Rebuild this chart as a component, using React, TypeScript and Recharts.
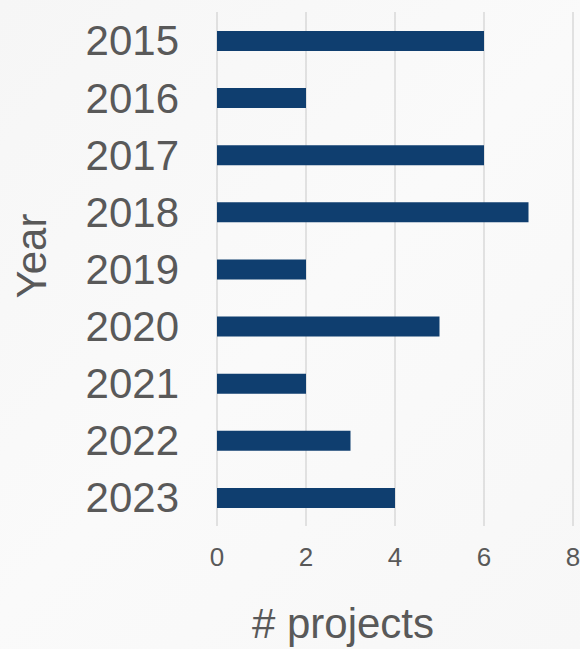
import { Bar, BarChart, CartesianGrid, XAxis, YAxis } from "recharts";

// projects per year
const years = ["2015", "2016", "2017", "2018", "2019", "2020", "2021", "2022", "2023"];
const projectCounts = [6, 2, 6, 7, 2, 5, 2, 3, 4];
const xTicks = [0, 2, 4, 6, 8];

const BAR_COLOR = "#0f3e6f";
const GRID_COLOR = "#d9d9d9";
const TEXT_COLOR = "#595959";
const FONT = '"Liberation Sans", Arial, sans-serif';

const data = years.map((year, i) => ({ year, count: projectCounts[i] }));

function YearLabel() {
  return (
    <text
      x={31}
      y={256}
      transform="rotate(-90 31 256)"
      textAnchor="middle"
      dominantBaseline="central"
      fontSize={42}
      fill={TEXT_COLOR}
      fontFamily={FONT}
    >
      Year
    </text>
  );
}

function ProjectsLabel() {
  return (
    <text x={343} y={638} textAnchor="middle" fontSize={42} fill={TEXT_COLOR} fontFamily={FONT}>
      # projects
    </text>
  );
}

export default function App() {
  return (
    <div
      style={{
        position: "absolute",
        top: 0,
        left: 0,
        width: 580,
        height: 649,
        background: "linear-gradient(135deg, #f6f6f6 0%, #fafafa 50%, #f7f7f7 100%)",
        fontFamily: FONT,
      }}
    >
      <BarChart
        width={580}
        height={649}
        data={data}
        layout="vertical"
        margin={{ top: 12, right: 7, bottom: 0, left: 0 }}
        barSize={20}
      >
        <CartesianGrid horizontal={false} stroke={GRID_COLOR} strokeWidth={1.5} />
        <XAxis
          type="number"
          domain={[0, 8]}
          ticks={xTicks}
          height={123}
          axisLine={false}
          tickLine={false}
          tickSize={0}
          tickMargin={22}
          tick={{ fontSize: 26, fill: TEXT_COLOR, fontFamily: FONT }}
          label={<ProjectsLabel />}
        />
        <YAxis
          type="category"
          dataKey="year"
          width={217}
          axisLine={false}
          tickLine={false}
          tickSize={0}
          tickMargin={38}
          interval={0}
          tick={{ fontSize: 42, fill: TEXT_COLOR, fontFamily: FONT }}
          label={<YearLabel />}
        />
        <Bar dataKey="count" fill={BAR_COLOR} isAnimationActive={false} />
      </BarChart>
    </div>
  );
}
